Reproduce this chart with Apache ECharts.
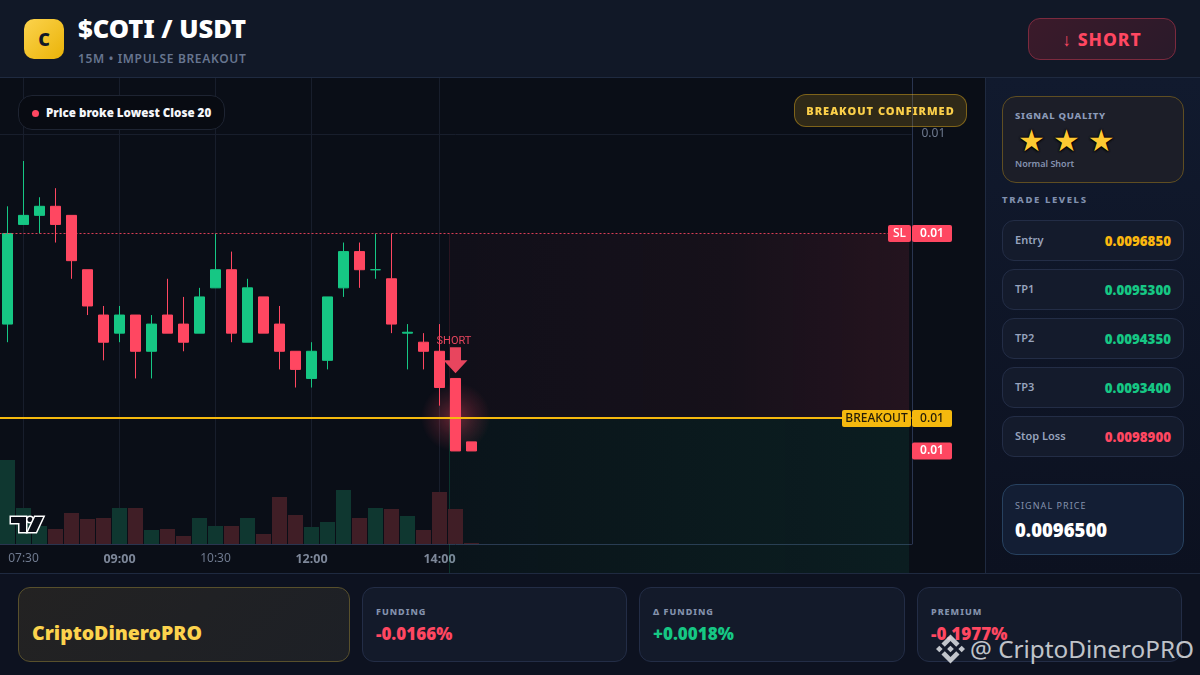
<!DOCTYPE html>
<html><head><meta charset="utf-8">
<script src="https://cdn.jsdelivr.net/npm/echarts@6/dist/echarts.min.js"></script>
<style>
*{box-sizing:border-box;margin:0;padding:0}
html,body{width:1200px;height:675px;overflow:hidden;background:#0a0e17;font-family:"Noto Sans",sans-serif}
.abs{position:absolute;white-space:nowrap}
#header{left:0;top:0;width:1200px;height:78px;background:#111827;border-bottom:1px solid #1f2a40}
#chartbg{left:0;top:78px;width:985px;height:495px;background:#0a0e17}
#chart{left:-1px;top:78px;width:986px;height:495px}
#side{left:985px;top:78px;width:215px;height:495px;background:linear-gradient(180deg,#111a2e,#0c1120);border-left:1px solid #1f2a40}
#footer{left:0;top:573px;width:1200px;height:102px;background:#0d1220;border-top:1px solid #1f2a40}
.row{left:1002px;width:182px;height:41px;border-radius:12px;background:#141b2c;border:1px solid #232d46}
.row span{position:absolute;top:11px}
.row .l{left:12px;font-size:11px;font-weight:600;color:#97a3bd;line-height:16px}
.row .v{right:12px;font-size:13.300px;font-weight:900;line-height:18px}
.card{top:587px;height:75px;border-radius:12px;background:#131a2a;border:1px solid #232d46}
.card .t{position:absolute;left:13px;top:17px;font-size:9px;font-weight:800;letter-spacing:1px;color:#8492ad;line-height:13px}
.card .n{position:absolute;left:13px;top:34px;font-size:17px;font-weight:900;line-height:24px}
</style></head><body>
<div id="chartbg" class="abs"></div>
<div id="chart" class="abs"></div>
<div id="header" class="abs"></div>
<div id="side" class="abs"></div>
<div id="footer" class="abs"></div>

<div class="abs" style="left:24px;top:19px;width:40px;height:40px;border-radius:10px;background:linear-gradient(135deg,#fcd34d,#eab308);color:#111827;font-size:18px;font-weight:900;line-height:40px;text-align:center">C</div>
<div class="abs" style="left:78px;top:11px;font-size:25.500px;font-weight:900;color:#fff;line-height:34px">$COTI / USDT</div>
<div class="abs" style="left:78px;top:50px;font-size:12px;font-weight:600;letter-spacing:.67px;color:#67758f;line-height:18px">15M • IMPULSE BREAKOUT</div>
<div class="abs" style="left:1028px;top:18px;width:148px;height:42px;border-radius:12px;background:linear-gradient(135deg,#3b1a2a,#2a1a2a);border:1px solid #7c2a3e;color:#ff4761;font-size:17.500px;font-weight:800;letter-spacing:1px;line-height:40px;text-align:center">↓ SHORT</div>

<div class="abs" style="left:18px;top:95px;width:207px;height:35px;border-radius:14px;background:#080b12;border:1px solid #1e2432"></div>
<div class="abs" style="left:32px;top:110px;width:7px;height:7px;border-radius:50%;background:#ff4761"></div>
<div class="abs" style="left:46px;top:104px;font-size:11.600px;font-weight:900;color:#f4f6fa;line-height:17px">Price broke Lowest Close 20</div>
<div class="abs" style="left:794px;top:94px;width:173px;height:33px;border-radius:12px;background:rgba(245,185,30,.16);border:1px solid rgba(245,185,30,.4);color:#fbcf4a;font-size:11px;font-weight:900;letter-spacing:1px;line-height:31px;text-align:center">BREAKOUT CONFIRMED</div>

<div class="abs" style="left:1002px;top:96px;width:182px;height:87px;border-radius:14px;background:#1c1e28;border:1px solid #5f4e22"></div>
<div class="abs" style="left:1015px;top:109px;font-size:9.500px;font-weight:800;letter-spacing:.7px;color:#8c9bb9;line-height:14px">SIGNAL QUALITY</div>
<div class="abs" style="left:1018px;top:122px;font-size:30px;color:#fdc932;letter-spacing:8px;line-height:38px;text-shadow:0 0 2px #000,0 0 2px #000,0 1px 2px #000;font-family:'DejaVu Sans'">★★★</div>
<div class="abs" style="left:1015px;top:157px;font-size:9px;font-weight:600;color:#8593b0;line-height:13px">Normal Short</div>
<div class="abs" style="left:1002px;top:193px;font-size:9.500px;font-weight:800;letter-spacing:1.6px;color:#8090ae;line-height:14px">TRADE LEVELS</div>

<div class="abs row" style="top:220px"><span class="l">Entry</span><span class="v" style="color:#fbb80f">0.0096850</span></div>
<div class="abs row" style="top:269px"><span class="l">TP1</span><span class="v" style="color:#16c784">0.0095300</span></div>
<div class="abs row" style="top:318px"><span class="l">TP2</span><span class="v" style="color:#16c784">0.0094350</span></div>
<div class="abs row" style="top:367px"><span class="l">TP3</span><span class="v" style="color:#16c784">0.0093400</span></div>
<div class="abs row" style="top:416px"><span class="l">Stop Loss</span><span class="v" style="color:#ff4761">0.0098900</span></div>

<div class="abs" style="left:1002px;top:484px;width:182px;height:71px;border-radius:14px;background:#131e34;border:1px solid #27415f"></div>
<div class="abs" style="left:1015px;top:499px;font-size:9px;letter-spacing:1.050px;color:#8492ad;line-height:14px">SIGNAL PRICE</div>
<div class="abs" style="left:1015px;top:517px;font-size:18.500px;font-weight:900;color:#fff;line-height:26px">0.0096500</div>

<div class="abs card" style="left:18px;width:332px;background:linear-gradient(135deg,#232222,#1d2026);border-color:#58502c"><span class="abs" style="left:13px;top:31px;font-size:19.500px;font-weight:900;color:#fcd34d;line-height:28px">CriptoDineroPRO</span></div>
<div class="abs card" style="left:362px;width:265px"><span class="t">FUNDING</span><span class="n" style="color:#ff4761">-0.0166%</span></div>
<div class="abs card" style="left:639px;width:266px"><span class="t">Δ FUNDING</span><span class="n" style="color:#16c784">+0.0018%</span></div>
<div class="abs card" style="left:917px;width:265px"><span class="t">PREMIUM</span><span class="n" style="color:#ff4761">-0.1977%</span></div>

<svg class="abs" style="left:936px;top:634px" width="29" height="30" viewBox="0 0 126 126"><path fill="rgba(225,228,232,.85)" d="M38.200 53 63 28.300 87.800 53l14.400-14.400L63 0 23.800 39.200zM0 63l14.400-14.400L28.800 63 14.400 77.400zM38.200 73l24.800 24.700L87.800 73l14.400 14.400L63 126 23.800 87l-.1-.1zM97.200 63l14.400-14.400L126 63l-14.400 14.400zM77.600 63 63 48.400 52.300 59.100 51 60.300l-2.600 2.700L63 77.600z"/></svg>
<div class="abs" style="left:970px;top:632px;font-size:24.300px;color:rgba(225,228,232,.85);line-height:34px">@ CriptoDineroPRO</div>

<svg class="abs" style="left:0;top:508px" width="50" height="30" viewBox="0 508 50 30"><g fill="#0a0e17" stroke="#fff" stroke-width="3" stroke-linejoin="miter" paint-order="stroke"><path d="M11 517H26V532H19.500V523H11Z"/><circle cx="30" cy="519.500" r="2.500"/><path d="M43 517H35L28 532H36Z"/></g></svg>

<script>
const times = ["07:15","07:30","07:45","08:00","08:15","08:30","08:45","09:00","09:15","09:30","09:45","10:00","10:15","10:30","10:45","11:00","11:15","11:30","11:45","12:00","12:15","12:30","12:45","13:00","13:15","13:30","13:45","14:00","14:15","14:30","14:45","15:00","15:15","15:30","15:45","16:00","16:15","16:30","16:45","17:00","17:15","17:30","17:45","18:00","18:15","18:30","18:45","19:00","19:15","19:30","19:45","20:00","20:15","20:30","20:45","21:00","21:15"];
const shownTimes = ["07:30","09:00","10:30","12:00","14:00"];
const boldTimes = ["09:00","12:00","14:00"];
const opens  = [0.00979,0.00990,0.00991,0.00992,0.00991,0.00985,0.00980,0.00978,0.00980,0.00976,0.00980,0.00979,0.00978,0.00983,0.00985,0.00977,0.00982,0.00979,0.00976,0.00973,0.00975,0.00983,0.00987,0.00985,0.00984,0.00978,0.00977,0.00976,0.00973,0.00966];
const closes = [0.00989,0.00991,0.00992,0.00990,0.00986,0.00981,0.00977,0.00980,0.00976,0.00979,0.00978,0.00977,0.00982,0.00985,0.00978,0.00983,0.00978,0.00976,0.00974,0.00976,0.00982,0.00987,0.00985,0.00985,0.00979,0.009781,0.00976,0.00972,0.00965,0.00965];
const lows   = [0.00977,0.00990,0.00989,0.00988,0.00984,0.00980,0.00975,0.00977,0.00973,0.00973,0.00978,0.00976,0.00978,0.00983,0.00977,0.00977,0.00978,0.00974,0.00972,0.00972,0.00974,0.00982,0.00983,0.00984,0.00978,0.00974,0.00974,0.00970,0.00965,0.00965];
const highs  = [0.00992,0.00997,0.00993,0.00994,0.00991,0.00985,0.00981,0.00981,0.00980,0.00980,0.00984,0.00982,0.00983,0.00989,0.00987,0.00984,0.00982,0.00981,0.00976,0.00977,0.00982,0.00988,0.00988,0.00989,0.00989,0.00979,0.00978,0.00979,0.00973,0.00966];
const volumes = [84,36,18,15,31,25,26,36,36,14,15,8,26,18,18,26,10,47,29,17,22,54,26,36,35,28,14,52,35,1];
const stopLevel = 0.00989;
const breakoutLevel = 0.009687;
const lastPrice = 0.00965;
const shortArrowPrice = 0.00975;
const zoneFloor = 0.009515;
const signalIndex = 28;
const zoneEndIndex = 56;
const axisPriceTicks = [0.01];

const UP = '#16c784', DOWN = '#ff4761', AMBER = '#f5b90e';
const candles = opens.map((o,i)=>[o,closes[i],lows[i],highs[i]]);
const volumeData = volumes.map((v,i)=>({value:v,itemStyle:{color:closes[i]>=opens[i]?'#0f3730':'#401e26'}}));
const redFill = {type:'linear',x:0,y:0,x2:1,y2:0,colorStops:[{offset:0,color:'rgba(255,71,97,.03)'},{offset:.6,color:'rgba(255,71,97,.05)'},{offset:1,color:'rgba(255,71,97,.11)'}]};
const greenFill = {type:'linear',x:0,y:0,x2:1,y2:0,colorStops:[{offset:0,color:'rgba(22,199,132,.035)'},{offset:1,color:'rgba(22,199,132,.085)'}]};
const zones = [[signalIndex,stopLevel,breakoutLevel,0],[signalIndex,breakoutLevel,zoneFloor,1]];

function tag(bg,fg,width){return {backgroundColor:bg,color:fg,width:width,height:17,lineHeight:17,align:'center',fontSize:12,fontWeight:500,fontFamily:'Noto Sans',borderRadius:2};}
const chart = echarts.init(document.getElementById('chart'),null,{renderer:'canvas'});
chart.setOption({
  animation:false,
  backgroundColor:'transparent',
  grid:[{left:0.5,top:0,width:912,height:466},{left:0.5,top:382,width:912,height:84}],
  xAxis:[
    {type:'category',gridIndex:0,data:times,boundaryGap:true,
     axisLine:{show:true,lineStyle:{color:'#2a3550',width:1}},axisTick:{show:false},
     axisLabel:{interval:(i,v)=>shownTimes.includes(v),margin:9,fontSize:12,fontFamily:'Noto Sans',color:'#6f7a8f',
       formatter:v=>boldTimes.includes(v)?'{b|'+v+'}':v,rich:{b:{fontSize:12.5,fontWeight:700,color:'#7d8799',fontFamily:'Noto Sans'}}},
     splitLine:{show:true,alignWithLabel:true,interval:(i,v)=>shownTimes.includes(times[i]),lineStyle:{color:'#181e2c',width:1}}},
    {type:'category',gridIndex:1,data:times,boundaryGap:true,show:false}
  ],
  yAxis:[
    {type:'value',gridIndex:0,position:'right',offset:1,min:0.0095473,max:0.0100616,scale:true,
     axisLine:{show:true,lineStyle:{color:'#2a3550',width:1}},
     axisTick:{show:false,customValues:axisPriceTicks},
     axisLabel:{customValues:axisPriceTicks,margin:9,padding:[5,0,0,0],fontSize:12,fontFamily:'Noto Sans',color:'#6f7a8f',formatter:v=>v.toFixed(2)},
     splitLine:{show:true,lineStyle:{color:'#181e2c',width:1}}},
    {type:'value',gridIndex:1,min:0,max:84,show:false}
  ],
  series:[
    {name:'Volume',type:'bar',xAxisIndex:1,yAxisIndex:1,data:volumeData,barWidth:15,z:1,silent:true},
    {name:'Zones',type:'custom',xAxisIndex:0,yAxisIndex:0,z:1,silent:true,clip:false,data:zones,encode:{x:0,y:[1,2]},
     renderItem(params,api){
       const band=api.size([1,0])[0];
       const a=api.coord([api.value(0),api.value(1)]);
       const b=api.coord([zoneEndIndex,api.value(2)]);
       const x0=a[0]-band*0.375, x1=b[0]+band*0.35;
       const red=api.value(3)===0;
       return {type:'group',children:[
         {type:'rect',shape:{x:x0,y:a[1],width:x1-x0,height:b[1]-a[1],r:red?[4,0,0,0]:0},style:{fill:red?redFill:greenFill}},
         {type:'line',shape:{x1:x0,y1:a[1],x2:x0,y2:b[1]},style:{stroke:red?'rgba(255,71,97,.13)':'rgba(22,199,132,.2)',lineWidth:1}}
       ]};
     }},
    {name:'Glow',type:'scatter',xAxisIndex:0,yAxisIndex:0,z:2,silent:true,symbol:'circle',symbolSize:70,
     data:[[signalIndex,breakoutLevel]],
     itemStyle:{opacity:1,color:{type:'radial',x:.5,y:.5,r:.5,colorStops:[{offset:0,color:'rgba(255,71,97,.38)'},{offset:.55,color:'rgba(255,71,97,.15)'},{offset:1,color:'rgba(255,71,97,0)'}]}}},
    {name:'$COTI / USDT',type:'candlestick',xAxisIndex:0,yAxisIndex:0,z:3,barWidth:11,silent:true,data:candles,
     itemStyle:{color:UP,color0:DOWN,borderColor:UP,borderColor0:DOWN,borderWidth:1},
     markLine:{silent:true,symbol:'none',z:4,animation:false,precision:7,
       data:[
         {yAxis:stopLevel,lineStyle:{color:'rgba(255,71,97,.85)',type:[2,2],width:1},
          label:{show:true,position:'end',distance:0,offset:[-23.5,0],formatter:'{a|SL}{g|}{b|'+stopLevel.toFixed(2)+'}',
            rich:{a:tag(DOWN,'#fff',23),g:{width:1,height:17},b:Object.assign(tag(DOWN,'#fff',40),{fontWeight:600})}}},
         {yAxis:breakoutLevel,lineStyle:{color:AMBER,type:'solid',width:2},
          label:{show:true,position:'end',distance:0,offset:[-69.5,1],formatter:'{a|BREAKOUT}{g|}{b|'+breakoutLevel.toFixed(2)+'}',
            rich:{a:tag(AMBER,'#241c08',69),g:{width:1,height:17},b:tag(AMBER,'#241c08',40)}}},
         {yAxis:lastPrice,lineStyle:{color:'rgba(0,0,0,0)',width:1},
          label:{show:true,position:'end',distance:0,offset:[.5,0],formatter:'{b|'+lastPrice.toFixed(2)+'}',
            rich:{b:Object.assign(tag(DOWN,'#fff',40),{fontWeight:600})}}}
       ]},
     markPoint:{silent:true,z:5,animation:false,
       data:[{name:'SHORT',coord:[times[signalIndex],shortArrowPrice],symbol:'path://M6.500 0H17.500V13H24L12 26L0 13H6.500Z',symbolSize:[24,26],symbolOffset:[0,0],
         itemStyle:{color:'#e8455e'},
         label:{show:true,position:'top',distance:1,offset:[-1.5,0],formatter:'SHORT',color:'#e8455e',fontSize:11,fontFamily:'Roboto'}}]}
    }
  ]
});
</script>
</body></html>
